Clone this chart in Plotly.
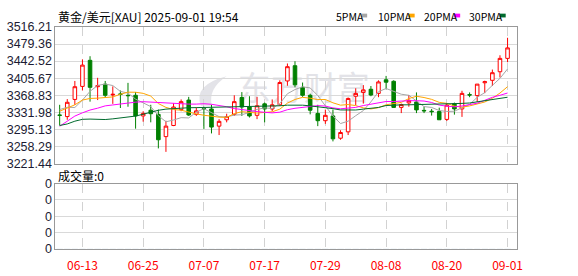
import plotly.graph_objects as go

W, H = 578, 276

dates = ["06-10", "06-11", "06-12", "06-13", "06-16", "06-17", "06-18", "06-19", "06-20", "06-23",
         "06-24", "06-25", "06-26", "06-27", "06-30", "07-01", "07-02", "07-03", "07-04", "07-07",
         "07-08", "07-09", "07-10", "07-11", "07-14", "07-15", "07-16", "07-17", "07-18", "07-21",
         "07-22", "07-23", "07-24", "07-25", "07-28", "07-29", "07-30", "07-31", "08-01", "08-04",
         "08-05", "08-06", "08-07", "08-08", "08-11", "08-12", "08-13", "08-14", "08-15", "08-18",
         "08-19", "08-20", "08-21", "08-22", "08-25", "08-26", "08-27", "08-28", "08-29", "09-01"]

open_ = [3326.2, 3322.9, 3359.9, 3388.0, 3444.2, 3387.3, 3392.8, 3369.5, 3371.6, 3368.6,
         3368.8, 3324.3, 3336.6, 3327.7, 3279.7, 3303.7, 3337.9, 3358.5, 3327.7, 3340.0,
         3339.3, 3302.3, 3316.0, 3327.7, 3364.0, 3343.5, 3325.6, 3350.3, 3339.3, 3348.3,
         3399.7, 3432.6, 3386.0, 3368.8, 3329.7, 3314.0, 3324.3, 3276.3, 3290.0, 3366.8,
         3375.0, 3381.8, 3372.9, 3402.3, 3399.0, 3342.7, 3352.4, 3354.4, 3336.3, 3334.5,
         3333.9, 3316.8, 3350.9, 3339.4, 3370.2, 3368.2, 3395.8, 3401.1, 3419.6, 3448.4]
high = [3348.3, 3360.6, 3399.7, 3446.3, 3453.1, 3406.5, 3399.7, 3388.0, 3379.1, 3395.6,
        3375.7, 3334.5, 3348.3, 3338.0, 3314.0, 3351.7, 3359.9, 3365.4, 3342.8, 3344.2,
        3348.3, 3317.4, 3329.1, 3368.8, 3375.7, 3366.8, 3365.4, 3353.1, 3359.9, 3401.1,
        3437.4, 3442.2, 3396.3, 3372.2, 3348.3, 3338.0, 3338.0, 3293.4, 3364.0, 3383.9,
        3390.8, 3388.8, 3401.1, 3410.6, 3401.1, 3350.9, 3369.4, 3375.0, 3344.2, 3339.4,
        3342.1, 3350.9, 3353.0, 3378.5, 3375.0, 3392.9, 3400.3, 3424.3, 3455.1, 3492.8]
low = [3303.7, 3316.0, 3348.3, 3379.1, 3355.1, 3358.5, 3363.3, 3350.3, 3341.4, 3344.1,
       3296.8, 3311.9, 3310.5, 3254.3, 3246.8, 3302.3, 3334.5, 3324.3, 3324.3, 3296.3,
       3286.6, 3283.1, 3310.5, 3324.3, 3324.3, 3320.9, 3317.4, 3310.5, 3334.5, 3346.2,
       3389.4, 3386.0, 3365.4, 3327.7, 3302.3, 3307.1, 3269.4, 3272.9, 3283.1, 3347.6,
       3350.9, 3366.8, 3364.7, 3381.8, 3342.1, 3330.4, 3344.2, 3330.4, 3330.4, 3325.0,
       3316.0, 3313.3, 3327.1, 3322.2, 3364.7, 3354.4, 3373.5, 3388.8, 3407.2, 3440.1]
close = [3325.6, 3353.7, 3387.3, 3433.9, 3386.0, 3389.4, 3368.8, 3370.9, 3370.9, 3368.0,
         3324.3, 3329.7, 3329.1, 3272.9, 3302.3, 3343.5, 3355.1, 3326.3, 3335.2, 3339.4,
         3300.3, 3312.6, 3322.9, 3355.1, 3343.5, 3324.3, 3346.2, 3339.3, 3348.3, 3396.3,
         3430.5, 3391.4, 3368.8, 3336.6, 3314.0, 3325.6, 3274.9, 3288.6, 3362.0, 3372.9,
         3380.5, 3369.4, 3397.6, 3397.0, 3342.7, 3348.9, 3357.9, 3337.3, 3335.3, 3333.5,
         3316.0, 3347.6, 3339.4, 3372.9, 3369.4, 3392.9, 3398.2, 3417.5, 3448.4, 3471.0]

ma5 = [3338.0, 3343.0, 3342.5, 3358.5, 3377.3, 3390.1, 3393.1, 3389.8, 3377.2, 3373.6,
       3360.6, 3352.8, 3344.4, 3324.8, 3311.7, 3315.5, 3320.6, 3320.0, 3332.5, 3339.9,
       3331.3, 3322.8, 3322.1, 3326.1, 3326.9, 3331.7, 3338.4, 3341.7, 3340.3, 3350.9,
       3372.1, 3381.2, 3387.1, 3384.7, 3368.3, 3347.3, 3324.0, 3307.9, 3313.0, 3324.8,
       3335.8, 3354.7, 3376.5, 3383.5, 3377.4, 3371.1, 3368.8, 3356.8, 3344.4, 3342.6,
       3336.0, 3333.9, 3334.4, 3341.9, 3349.1, 3364.4, 3374.6, 3390.2, 3405.3, 3425.6]
ma10 = [3334.5, 3341.5, 3348.3, 3358.5, 3362.0, 3362.6, 3363.3, 3365.3, 3371.0, 3375.5,
        3375.4, 3373.0, 3367.1, 3351.0, 3342.7, 3338.1, 3336.7, 3332.2, 3328.7, 3325.8,
        3323.4, 3321.7, 3321.1, 3329.3, 3333.4, 3331.5, 3330.6, 3331.9, 3333.2, 3338.9,
        3351.9, 3359.8, 3364.4, 3362.5, 3359.6, 3359.7, 3352.6, 3347.5, 3348.9, 3346.6,
        3341.6, 3339.4, 3342.2, 3348.3, 3351.1, 3353.5, 3361.8, 3366.7, 3364.0, 3360.0,
        3353.6, 3351.4, 3345.6, 3343.2, 3345.9, 3350.2, 3354.3, 3362.3, 3373.6, 3387.4]
ma20 = [3302.0, 3314.0, 3324.0, 3331.0, 3337.0, 3341.0, 3346.0, 3348.0, 3350.5, 3352.5,
        3354.0, 3355.0, 3354.0, 3352.5, 3351.5, 3350.5, 3350.0, 3349.8, 3349.8, 3350.6,
        3349.4, 3347.3, 3344.1, 3340.2, 3338.0, 3334.8, 3333.7, 3332.1, 3330.9, 3332.4,
        3337.7, 3340.8, 3342.7, 3345.9, 3346.5, 3345.6, 3341.6, 3339.7, 3341.0, 3342.7,
        3346.7, 3349.6, 3353.3, 3355.4, 3355.4, 3356.6, 3357.2, 3357.1, 3356.4, 3353.3,
        3347.6, 3345.4, 3343.9, 3345.7, 3348.5, 3351.8, 3358.0, 3364.5, 3368.8, 3373.7]
ma30 = [3303.7, 3307.0, 3313.0, 3317.0, 3317.5, 3317.0, 3316.5, 3318.0, 3320.0, 3322.0,
        3324.0, 3328.0, 3332.5, 3336.5, 3339.0, 3340.5, 3341.5, 3342.0, 3342.2, 3342.5,
        3343.0, 3343.0, 3343.3, 3343.6, 3344.0, 3344.2, 3344.4, 3344.8, 3345.5, 3346.2,
        3347.5, 3348.0, 3347.5, 3346.0, 3344.5, 3343.1, 3340.0, 3337.2, 3336.9, 3337.1,
        3339.0, 3340.3, 3342.6, 3346.7, 3348.0, 3348.2, 3348.3, 3348.7, 3348.7, 3348.5,
        3349.0, 3350.2, 3350.7, 3351.3, 3352.2, 3354.5, 3356.2, 3358.8, 3362.1, 3364.6]

volume = [0, 0, 0, 0, 0, 0, 0, 0, 0, 0, 0, 0, 0, 0, 0, 0, 0, 0, 0, 0,
          0, 0, 0, 0, 0, 0, 0, 0, 0, 0, 0, 0, 0, 0, 0, 0, 0, 0, 0, 0,
          0, 0, 0, 0, 0, 0, 0, 0, 0, 0, 0, 0, 0, 0, 0, 0, 0, 0, 0, 0]

price_ticks = [3221.44, 3258.29, 3295.13, 3331.98, 3368.83, 3405.67, 3442.52, 3479.36, 3516.21]
date_ticks = ["06-13", "06-25", "07-07", "07-17", "07-29", "08-08", "08-20", "09-01"]
vol_ticks = [0, 1, 2, 3, 4]
vol_ticktext = ["0", "0", "0", "0", "0"]

ma_names = ["5PMA", "10PMA", "20PMA", "30PMA"]
ma_colors = ["#a6a6a6", "#ffa500", "#ff00ff", "#006b2e"]

CJK = "Noto Sans CJK SC"
NUM = "Liberation Sans, Arial"
LABEL_COLOR = "#1b1b33"


def px(x):
    return x / W


def py(y):
    return 1 - y / H


fig = go.Figure()
fig.add_trace(go.Candlestick(
    x=dates, open=open_, high=high, low=low, close=close,
    increasing=dict(line=dict(color="#ff0000", width=1), fillcolor="#ffffff"),
    decreasing=dict(line=dict(color="#008000", width=1), fillcolor="#008000"),
    xaxis="x", yaxis="y", showlegend=False, hoverinfo="skip"))
for vals, col in zip([ma5, ma10, ma20, ma30], ma_colors):
    fig.add_trace(go.Scatter(x=dates, y=vals, mode="lines", line=dict(color=col, width=1),
                             xaxis="x", yaxis="y", showlegend=False, hoverinfo="skip"))
fig.add_trace(go.Bar(x=dates, y=volume, xaxis="x2", yaxis="y2", showlegend=False,
                     marker_color="#ff0000", hoverinfo="skip"))

xdom = [px(56), px(522)]
xr = [-0.56, 60.19]
common_x = dict(domain=xdom, type="category", range=xr, tickmode="array", tickvals=date_ticks,
                ticktext=date_ticks, showgrid=True, gridcolor="#d2d2d2", griddash="dash", gridwidth=1,
                showline=True, mirror=True, linecolor="#999999", linewidth=1, ticks="",
                zeroline=False, fixedrange=True)

fig.update_layout(
    width=W, height=H, margin=dict(l=0, r=0, t=0, b=0),
    paper_bgcolor="white", plot_bgcolor="white", boxgap=0.33,
    xaxis=dict(**common_x, anchor="y", showticklabels=False, rangeslider=dict(visible=False)),
    xaxis2=dict(**common_x, anchor="y2", showticklabels=True, ticklabelstandoff=6,
                tickfont=dict(family=CJK, size=12, color="#ff0000")),
    yaxis=dict(domain=[py(165), py(21)], range=[price_ticks[0], price_ticks[-1]],
               tickmode="array", tickvals=price_ticks, ticktext=[f"{v:.2f}" for v in price_ticks],
               tickfont=dict(family=NUM, size=12.5, color=LABEL_COLOR), showgrid=True,
               gridcolor="#d9d9d9", showline=True, mirror=True, linecolor="#999999", ticks="",
               zeroline=False, fixedrange=True),
    yaxis2=dict(domain=[py(255), py(186)], range=[0, 4], tickmode="array", tickvals=vol_ticks,
                ticktext=vol_ticktext, tickfont=dict(family=NUM, size=12.5, color=LABEL_COLOR),
                showgrid=True, gridcolor="#d9d9d9", showline=True, mirror=True, linecolor="#999999",
                ticks="", zeroline=False, fixedrange=True),
)

# title and volume label
fig.add_annotation(text="黄金/美元[XAU] 2025-09-01 19:54", xref="paper", yref="paper",
                   x=px(57), y=py(10), xanchor="left", yanchor="middle", showarrow=False,
                   font=dict(family=CJK, size=12, color="#000000"))
fig.add_annotation(text="成交量:0", xref="paper", yref="paper",
                   x=px(57), y=py(177.5), xanchor="left", yanchor="middle", showarrow=False,
                   font=dict(family=CJK, size=12, color="#000000"))

# legend
leg_text_x = [338, 380, 426, 472]
leg_sq_x = [365, 413, 459, 505]
for name, col, tx, sx in zip(ma_names, ma_colors, leg_text_x, leg_sq_x):
    fig.add_annotation(text=name, xref="paper", yref="paper", x=px(tx), y=py(9.5),
                       xanchor="left", yanchor="middle", showarrow=False,
                       font=dict(family=CJK, size=10.5, color="#000000"))
    fig.add_shape(type="rect", xref="paper", yref="paper", x0=px(sx), x1=px(sx + 6),
                  y0=py(11), y1=py(7), line=dict(width=0), fillcolor=col)

# watermark
fig.add_shape(type="rect", xref="paper", yref="paper", x0=px(232), x1=px(382), y0=py(106), y1=py(70),
              line=dict(width=0), fillcolor="rgba(0,0,0,0)", layer="below",
              label=dict(text="东方财富", textposition="middle center",
                         font=dict(family=CJK, size=33, color="#e3e3e8")))
fig.add_shape(type="path", xref="paper", yref="paper", layer="below",
              path=(f"M {px(203)},{py(104)} Q {px(195)},{py(82)} {px(229)},{py(73)} "
                    f"Q {px(210)},{py(86)} {px(214)},{py(104)} Z"),
              line=dict(width=0), fillcolor="#e3e3e8")

fig.write_html("out.html")
